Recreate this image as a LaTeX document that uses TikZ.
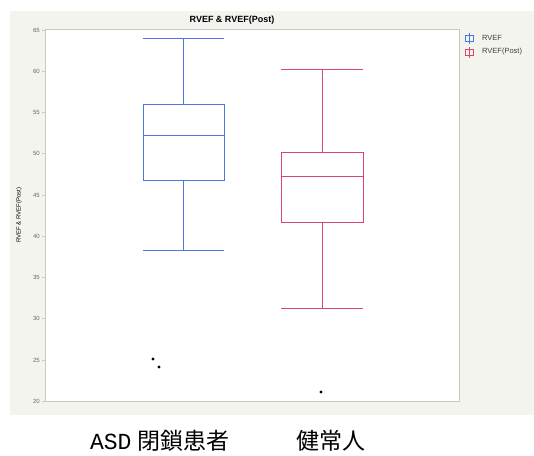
\documentclass[tikz,border=0pt]{standalone}
\usepackage{fontspec}
\setmainfont{Liberation Sans}
\newfontfamily\cjk{Noto Sans CJK JP}
\newfontfamily\monoser{Liberation Mono}
\definecolor{panelbg}{HTML}{F4F4EF}
\definecolor{frameg}{HTML}{C8C8C8}
\definecolor{bxblue}{HTML}{4A78DC}
\definecolor{bxred}{HTML}{D9486C}
\definecolor{ticktext}{HTML}{666666}
\begin{document}
\begin{tikzpicture}[x=1pt,y=-1pt,
  ticklab/.style={anchor=east,font=\fontsize{6}{7}\selectfont,text=ticktext,inner sep=0pt},
  bluebox/.style={draw=bxblue,line width=0.9pt},
  redbox/.style={draw=bxred,line width=0.9pt},
  outl/.style={fill=black,draw=none},
  leglab/.style={anchor=west,font=\fontsize{7.5}{8}\selectfont,text=black!75,inner sep=0pt}]
\useasboundingbox (0,0) rectangle (534,455);
\fill[white] (0,0) rectangle (534,455);
\fill[panelbg] (10,11) rectangle (534,415);
\fill[white] (45,29) rectangle (459,401);
\draw[frameg,line width=0.9pt] (45,29) -- (459,29) -- (459,401) -- (45,401) -- cycle;
% ticks
\foreach \v/\py in {65/30,60/71,55/112,50/153,45/195,40/236,35/277,30/318,25/360,20/401}{
  \draw[frameg,line width=0.6pt] (42,\py) -- (45,\py);
  \node[ticklab] at (40,\py) {\v};
}
% title
\node[font=\fontsize{9}{10}\selectfont\bfseries] (title) at (232,20) {RVEF \& RVEF(Post)};
% y label
\node[rotate=90,font=\fontsize{6}{7}\selectfont] (ylab) at (19,215) {RVEF \& RVEF(Post)};
% blue box
\draw[bluebox] (143,38) -- (224,38);
\draw[bluebox] (183,38) -- (183,104);
\draw[bluebox] (143,104) rectangle (224,180);
\draw[bluebox] (143,135) -- (224,135);
\draw[bluebox] (183,180) -- (183,250);
\draw[bluebox] (143,250) -- (224,250);
% red box
\draw[redbox] (281,69) -- (363,69);
\draw[redbox] (322,69) -- (322,152);
\draw[redbox] (281,152) rectangle (363,222);
\draw[redbox] (281,176) -- (363,176);
\draw[redbox] (322,222) -- (322,308);
\draw[redbox] (281,308) -- (363,308);
% outliers
\fill[outl] (153,359) circle (1.7);
\fill[outl] (159,367) circle (1.7);
\fill[outl] (321,392) circle (1.7);
% legend
\draw[bxblue,line width=0.8pt] (465.5,35) rectangle (473.5,41);
\draw[bxblue,line width=0.8pt] (469.5,32.5) -- (469.5,43.5);
\node[leglab] (lg1) at (482,38) {RVEF};
\draw[bxred,line width=0.8pt] (465.5,49) rectangle (473.5,55);
\draw[bxred,line width=0.8pt] (469.5,46.5) -- (469.5,57.5);
\node[leglab] (lg2) at (482,52) {RVEF(Post)};
% bottom labels
\node[font=\fontsize{23}{26}\selectfont] (g1) at (160,441) {{\monoser ASD} {\cjk 閉鎖患者}};
\node[font=\fontsize{23}{26}\selectfont\cjk] (g2) at (331,441) {健常人};
\end{tikzpicture}
\end{document}
